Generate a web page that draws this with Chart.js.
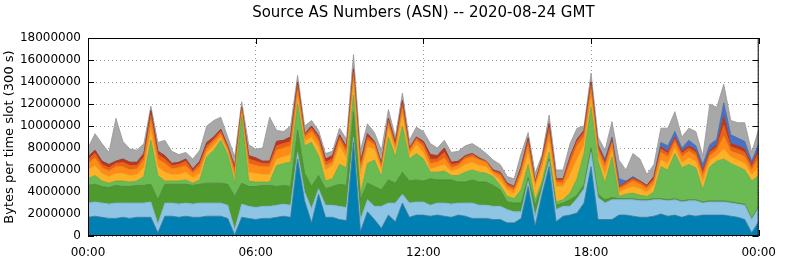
<!DOCTYPE html>
<html>
<head>
<meta charset="utf-8">
<title>Source AS Numbers (ASN)</title>
<script src="https://cdn.jsdelivr.net/npm/chart.js@4.4.1/dist/chart.umd.min.js"></script>
<style>
  html, body { margin: 0; padding: 0; background: #fff; }
  #wrap { width: 786px; height: 261px; }
</style>
</head>
<body>
<div id="wrap"><canvas id="asn-chart" width="786" height="261"></canvas></div>
<script>
// one value every 15 minutes, in units of 100000 bytes per 300 s slot
const darkBlue = [17,18,17,16,16,17,16,17,17,17, 3,18,18,17,18,17,17,18,18,18, 16,1,17,16,15,16,16,17,18,17,
  70,32,12,38,17,17,15,14,85,4, 22,15,7,19,13,30,17,19,19,18, 19,18,17,19,18,16,16,16,15,15,
  12,12,16,45,9,38,63,13,18,19, 21,30,63,15,15,15,19,19,18,17, 17,18,20,18,19,17,19,18,19,19, 19,19,18,17,15,3,13];
const lightBlue = [13,13,13,13,14,13,14,13,13,14, 8,12,12,12,12,12,13,12,12,12, 12,5,12,11,11,11,11,11,11,11,
  6,8,13,5,11,11,12,12,5,11, 11,12,20,11,17,8,13,12,12,10, 11,12,12,11,12,14,12,12,12,12,
  12,10,6,5,9,5,5,11,9,8, 13,13,13,20,15,18,14,14,15,15, 15,15,13,14,14,14,13,14,11,12, 12,12,12,12,13,12,13];
const darkGreen = [16,16,15,15,16,15,15,16,16,16, 22,17,17,18,17,17,17,18,18,18, 19,30,19,18,19,19,19,17,17,17,
  20,17,20,12,15,17,20,20,23,18, 15,18,15,21,18,20,20,20,19,24, 21,21,22,19,19,21,21,21,19,15,
  7,8,8,3,10,3,2,4,3,6, 3,4,4,3,3,2,1,1,1,1, 1,1,1,1,1,1,1,1,1,1, 1,1,1,1,1,1,1];
const lightGreen = [6,8,5,4,4,5,4,4,8,40, 22,3,3,3,4,2,4,24,30,39, 27,12,60,5,4,3,3,19,20,22,
  24,25,40,18,7,7,18,16,15,5, 18,24,12,39,24,42,20,24,20,6, 7,8,4,6,9,9,9,8,8,4,
  5,4,12,12,5,4,6,3,3,6, 15,28,37,30,15,37,2,4,5,4, 3,6,29,27,41,30,32,29,11,31, 36,38,35,33,31,34,28];
const amber = [8,9,7,6,7,7,6,6,8,9, 8,8,6,6,7,5,6,4,4,3, 3,5,3,8,8,7,7,6,6,7,
  6,4,5,8,10,12,17,9,11,19, 15,10,6,8,6,10,4,8,6,3, 5,6,4,6,7,7,6,6,2,5,
  6,5,12,10,12,12,10,14,12,17, 18,8,8,5,8,6,4,5,6,6, 4,6,6,6,5,5,6,6,8,6, 5,9,6,6,6,6,8];
const orange = [6,7,5,5,6,6,5,5,7,9, 7,8,5,6,6,4,6,3,4,3, 2,5,3,8,7,7,7,8,8,8,
  7,4,5,5,4,3,5,5,6,4, 6,4,3,4,3,6,3,4,5,5, 4,6,3,3,5,5,5,4,2,4,
  3,3,4,7,2,5,7,4,3,10, 12,7,8,5,7,6,3,3,5,4, 3,4,7,6,5,5,6,5,5,4, 5,12,5,6,6,4,8];
const darkOrange = [3,4,3,3,3,4,4,3,3,5, 4,4,3,3,4,2,3,3,2,2, 2,3,2,4,4,3,3,4,4,4,
  4,2,3,3,3,3,3,3,4,3, 3,2,2,3,2,4,2,2,3,4, 3,5,3,2,2,2,1,1,1,2,
  2,2,3,4,1,3,5,2,3,4, 4,4,4,2,3,2,1,2,2,2, 2,2,3,3,3,3,3,3,3,3, 3,10,4,4,4,3,5];
const red = [3,3,3,3,2,3,3,3,3,4, 3,3,2,2,2,2,2,3,2,2, 1,2,1,3,3,2,2,4,3,4,
  3,1,2,2,3,3,2,2,3,3, 3,1,1,2,2,3,1,1,2,4, 3,4,2,2,1,1,1,0,1,1,
  1,1,2,3,1,1,4,1,1,2, 2,2,3,2,2,2,1,1,1,1, 1,2,2,2,2,2,2,2,2,2, 2,8,3,3,3,2,3];
const blue = [0,0,0,0,0,0,0,0,0,0, 0,0,0,0,0,0,0,0,0,0, 0,0,0,0,0,0,0,0,0,0,
  0,0,0,0,0,0,0,0,0,0, 0,0,0,0,0,0,0,0,0,0, 0,0,0,0,0,0,0,0,0,0,
  0,0,0,0,0,0,0,0,0,0, 0,0,0,1,2,2,7,1,1,0, 0,0,4,5,5,3,5,4,5,5, 5,12,8,7,7,3,5];
const gray = [8,15,16,11,39,16,12,11,9,4, 8,14,11,7,6,9,10,15,15,11, 8,9,5,10,8,12,40,10,8,10,
  6,7,5,5,5,4,6,7,13,11, 9,8,12,8,5,7,7,9,9,10, 7,7,9,9,9,9,9,7,9,7,
  6,7,12,5,8,3,8,8,8,12, 10,4,8,7,8,14,17,10,21,20, 10,11,13,16,18,10,11,13,8,37, 29,17,13,14,17,8,13];

const xTickLabels = ['00:00', '06:00', '12:00', '18:00', '00:00'];
const yTickLabels = ['0', '2000000', '4000000', '6000000', '8000000', '10000000',
  '12000000', '14000000', '16000000', '18000000'];

const layers = [darkBlue, lightBlue, darkGreen, lightGreen, amber, orange, darkOrange, red, blue, gray];
const layerNames = ['AS 1', 'AS 2', 'AS 3', 'AS 4', 'AS 5', 'AS 6', 'AS 7', 'AS 8', 'AS 9', 'other'];
const layerColors = ['#0080b2', '#8ec5e5', '#4f9a2f', '#6cbb52', '#ffb125', '#ff8b14',
  '#ec6214', '#c0361a', '#4a72c4', '#a8a8a8'];
const layerLines = ['#3a7590', '#7aaecb', '#4a8234', '#62a84b', '#e5a02a', '#e67e1a',
  '#cf5a1a', '#a8351c', '#4266a8', '#959595'];

const slotHours = darkBlue.map((_, i) => i / 4);

const frame = {
  id: 'frame',
  beforeDatasetsDraw(chart) {
    const { ctx, chartArea: a, scales: { x, y } } = chart;
    ctx.save();
    ctx.strokeStyle = '#000';
    ctx.lineWidth = 1;
    ctx.beginPath();
    y.ticks.forEach(t => {
      const py = Math.round(y.getPixelForValue(t.value)) + 0.5;
      ctx.moveTo(a.left, py); ctx.lineTo(a.left + 6, py);
      ctx.moveTo(a.right - 6, py); ctx.lineTo(a.right, py);
    });
    x.ticks.forEach(t => {
      const px = Math.round(x.getPixelForValue(t.value)) + 0.5;
      ctx.moveTo(px, a.bottom); ctx.lineTo(px, a.bottom - 6);
      ctx.moveTo(px, a.top); ctx.lineTo(px, a.top + 6);
    });
    ctx.stroke();
    ctx.restore();
  },
  afterDatasetsDraw(chart) {
    const { ctx, chartArea: a } = chart;
    ctx.save();
    ctx.strokeStyle = '#000';
    ctx.lineWidth = 1;
    ctx.strokeRect(a.left + 0.5, a.top + 0.5, a.right - a.left - 1, a.bottom - a.top - 1);
    ctx.restore();
  }
};

Chart.defaults.font.family = "'DejaVu Sans', Verdana, sans-serif";
Chart.defaults.color = '#000';

new Chart(document.getElementById('asn-chart'), {
  type: 'line',
  data: {
    datasets: layers.map((vals, i) => ({
      label: layerNames[i],
      data: vals.map((v, j) => ({ x: slotHours[j], y: v * 100000 })),
      backgroundColor: layerColors[i],
      borderColor: layerLines[i],
      borderWidth: 0.8,
      fill: i === 0 ? 'origin' : '-1',
      pointRadius: 0,
      tension: 0
    }))
  },
  options: {
    responsive: false,
    animation: false,
    devicePixelRatio: 1,
    layout: { padding: { left: 0, right: 20, top: 0, bottom: 0 } },
    plugins: {
      legend: { display: false },
      tooltip: { enabled: false },
      title: {
        display: true,
        fullSize: false,
        text: 'Source AS Numbers (ASN) -- 2020-08-24 GMT',
        font: { size: 15, weight: 'normal' },
        color: '#000',
        padding: { top: 4, bottom: 16 }
      }
    },
    scales: {
      x: {
        type: 'linear',
        min: 0,
        max: 24,
        afterFit(s) { s.height = 25; },
        ticks: {
          stepSize: 6,
          autoSkip: false,
          maxRotation: 0,
          padding: 10,
          font: { size: 12 },
          callback: (v) => xTickLabels[Math.round(v / 6)]
        },
        grid: { color: '#9a9a9a', drawTicks: false },
        border: { display: false, dash: [1, 3] }
      },
      y: {
        stacked: true,
        min: 0,
        max: 18000000,
        afterFit(s) { s.width = 88; },
        ticks: {
          stepSize: 2000000,
          padding: 7,
          font: { size: 12 },
          callback: (v) => yTickLabels[Math.round(v / 2000000)]
        },
        title: {
          display: true,
          text: 'Bytes per time slot (300 s)',
          font: { size: 13 },
          color: '#000',
          padding: { top: 2, bottom: 0 }
        },
        grid: { color: '#9a9a9a', drawTicks: false },
        border: { display: false, dash: [1, 3] }
      }
    }
  },
  plugins: [frame]
});
</script>
</body>
</html>
